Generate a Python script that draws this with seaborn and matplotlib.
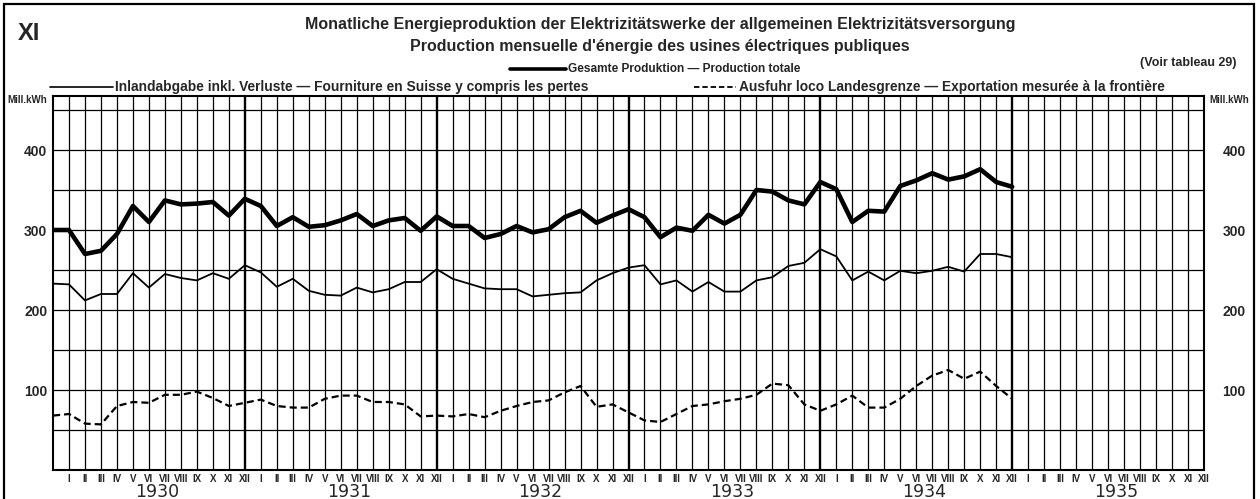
import numpy as np
import seaborn as sns
import matplotlib.pyplot as plt
from matplotlib.patches import Rectangle
from matplotlib.lines import Line2D

# monthly values, Mill. kWh, from Dec 1929 (index 0) to Dec 1934 (index 60)
total = [300, 300, 270, 274, 295, 330, 310, 337, 332, 333, 335, 318,
         339, 330, 305, 316, 304, 306, 312, 320, 305, 312, 315, 299,
         317, 305, 305, 290, 295, 305, 297, 301, 316, 324, 309, 318,
         326, 316, 291, 303, 299, 319, 308, 319, 350, 348, 337, 332,
         360, 351, 310, 324, 323, 355, 362, 371, 363, 367, 376, 360, 354]
inland = [233, 232, 212, 220, 220, 246, 228, 245, 240, 237, 246, 239,
          256, 247, 229, 239, 224, 219, 218, 228, 222, 226, 235, 235,
          251, 239, 233, 227, 226, 226, 217, 219, 221, 222, 237, 246,
          253, 256, 232, 237, 223, 235, 223, 223, 237, 241, 255, 259,
          276, 267, 237, 248, 237, 249, 246, 249, 254, 248, 270, 270, 266]
export = [68, 70, 58, 57, 80, 85, 84, 94, 94, 98, 90, 80,
          84, 88, 80, 78, 78, 89, 93, 93, 85, 85, 82, 67,
          68, 67, 70, 66, 74, 80, 85, 87, 97, 105, 79, 82,
          72, 62, 60, 70, 80, 82, 86, 89, 94, 108, 106, 82,
          74, 82, 93, 78, 78, 89, 105, 118, 125, 114, 123, 105, 89]
months = list(range(len(total)))

roman = ['I', 'II', 'III', 'IV', 'V', 'VI', 'VII', 'VIII', 'IX', 'X', 'XI', 'XII']
years = ['1930', '1931', '1932', '1933', '1934', '1935']
y_labels = [100, 200, 300, 400]

sns.set_style('white')
plt.rcParams['font.family'] = ['Liberation Sans', 'DejaVu Sans']

W, H = 1260, 499
fig = plt.figure(figsize=(W / 100, H / 100), dpi=100)


def fx(px):
    return px / W


def fy(py):
    return 1 - py / H


ax = fig.add_axes([fx(53), fy(470), fx(1204) - fx(53), fy(96) - fy(470)])
n_months = 12 * len(years)
ax.set_xlim(0, n_months)
ax.set_ylim(0, 467.5)

# grid: horizontal every 50, vertical every month, heavier at year ends
for v in range(50, 460, 50):
    ax.axhline(v, color='black', lw=0.9, zorder=1)
for k in range(1, n_months):
    ax.axvline(k, color='black', lw=1.7 if k % 12 == 0 else 0.9, zorder=1)

sns.lineplot(x=months, y=total, ax=ax, color='black', linewidth=3.3, zorder=3)
sns.lineplot(x=months, y=inland, ax=ax, color='black', linewidth=1.3, zorder=3)
sns.lineplot(x=months, y=export, ax=ax, color='black', linewidth=1.6,
             linestyle=(0, (3.2, 1.8)), zorder=3)

for s in ax.spines.values():
    s.set_linewidth(1.5)
    s.set_color('black')

ax.set_yticks(y_labels)
ax.set_yticklabels([str(v) for v in y_labels], fontsize=10, fontweight='bold')
ax.tick_params(axis='y', length=0, pad=4, labelright=True)
for t in ax.yaxis.get_major_ticks():
    t.label2.set_x(1.0 + 13 / 1151)
    t.label2.set_fontweight('bold')
    t.label2.set_fontsize(10)

ax.set_xticks(range(1, n_months + 1))
ax.set_xticklabels(roman * len(years), fontsize=7, fontweight='bold')
ax.tick_params(axis='x', length=0, pad=3)

for i, yr in enumerate(years):
    ax.text(12 * i + 6.5, -0.059, yr, transform=ax.get_xaxis_transform(),
            ha='center', va='center', fontsize=12.5, family='DejaVu Sans')

ax.set_xlabel('')
ax.set_ylabel('')

# titles and legend
fig.text(fx(18), fy(34), 'XI', fontsize=17, fontweight='bold', va='center')
fig.text(fx(660), fy(24),
         'Monatliche Energieproduktion der Elektrizitätswerke der allgemeinen Elektrizitätsversorgung',
         ha='center', va='center', fontsize=11.5, fontweight='bold')
fig.text(fx(660), fy(47),
         "Production mensuelle d'énergie des usines électriques publiques",
         ha='center', va='center', fontsize=11.5, fontweight='bold')
fig.text(fx(1237), fy(63), '(Voir tableau 29)', ha='right', va='center',
         fontsize=9, fontweight='bold')

fig.add_artist(Line2D([fx(510), fx(566)], [fy(69), fy(69)], color='black', lw=2.6))
fig.text(fx(568), fy(69), 'Gesamte Produktion — Production totale',
         va='center', fontsize=8.6, fontweight='bold')
fig.add_artist(Line2D([fx(50), fx(113)], [fy(87), fy(87)], color='black', lw=1.2))
fig.text(fx(115), fy(87), 'Inlandabgabe inkl. Verluste — Fourniture en Suisse y compris les pertes',
         va='center', fontsize=9.9, fontweight='bold')
fig.add_artist(Line2D([fx(694), fx(736)], [fy(87), fy(87)], color='black', lw=1.3,
                      linestyle=(0, (3, 1.6))))
fig.text(fx(739), fy(87), 'Ausfuhr loco Landesgrenze — Exportation mesurée à la frontière',
         va='center', fontsize=9.9, fontweight='bold')

fig.text(fx(27), fy(100), 'Mill.kWh', ha='center', va='center', fontsize=7, fontweight='bold')
fig.text(fx(1229), fy(100), 'Mill.kWh', ha='center', va='center', fontsize=7, fontweight='bold')

# outer frame, bottom edge runs off the page as in the scan
fig.add_artist(Rectangle((fx(4), fy(505)), fx(1254) - fx(4), fy(4) - fy(505),
                         fill=False, edgecolor='black', lw=1.6))

fig.savefig('out.png', dpi=100, facecolor='white')
